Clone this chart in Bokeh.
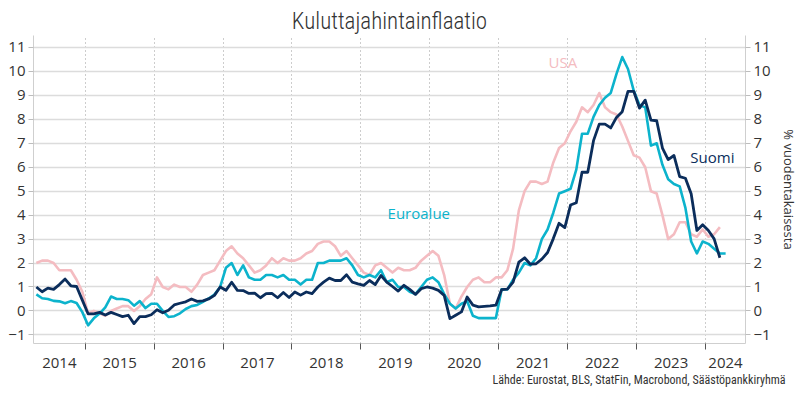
import pandas as pd
from bokeh.plotting import figure
from bokeh.models import (Range1d, LinearAxis, FixedTicker, Label, ColumnDataSource,
                          CustomJSTickFormatter, Title)
from bokeh.embed import file_html
from bokeh.resources import INLINE

# ---------------- data (monthly, year-on-year %) ----------------
start_month = "2014-04"

euroalue = [
    0.69, 0.53, 0.50, 0.42, 0.40, 0.32, 0.41, 0.33, -0.05,                    # 2014 Apr-Dec
    -0.60, -0.31, -0.11, 0.15, 0.60, 0.50, 0.50, 0.45, 0.22, 0.41, 0.12, 0.30,  # 2015
    0.30, 0.00, -0.25, -0.22, -0.10, 0.08, 0.20, 0.25, 0.38, 0.52, 0.68, 1.00,  # 2016
    1.80, 2.00, 1.50, 1.90, 1.40, 1.30, 1.30, 1.50, 1.50, 1.40, 1.50, 1.30,     # 2017
    1.30, 1.10, 1.30, 1.30, 2.00, 2.00, 2.10, 2.10, 2.10, 2.20, 1.90, 1.50,     # 2018
    1.40, 1.50, 1.40, 1.70, 1.20, 1.30, 1.00, 1.00, 0.80, 0.70, 1.00, 1.30,     # 2019
    1.40, 1.20, 0.70, 0.30, 0.10, 0.30, 0.40, -0.20, -0.30, -0.30, -0.30, -0.30,  # 2020
    0.90, 0.90, 1.30, 1.60, 2.00, 1.90, 2.20, 3.00, 3.40, 4.10, 4.90, 5.00,     # 2021
    5.10, 5.90, 7.40, 7.40, 8.10, 8.60, 8.90, 9.10, 9.90, 10.60, 10.10, 9.20,   # 2022
    8.60, 8.50, 6.90, 7.00, 6.10, 5.50, 5.30, 5.20, 4.30, 2.90, 2.40, 2.90,     # 2023
    2.80, 2.60, 2.40, 2.40,                                                      # 2024 Jan-Apr
]

suomi = [
    1.00, 0.80, 0.95, 0.90, 1.10, 1.33, 1.05, 1.02, 0.45,                       # 2014 Apr-Dec
    -0.12, -0.12, -0.06, -0.17, -0.06, -0.15, -0.24, -0.18, -0.53, -0.24, -0.24, -0.16,  # 2015
    0.05, -0.08, 0.03, 0.25, 0.32, 0.38, 0.50, 0.40, 0.42, 0.50, 0.65, 1.00,    # 2016
    0.86, 1.20, 0.86, 0.85, 0.73, 0.74, 0.55, 0.72, 0.73, 0.55, 0.77, 0.56,     # 2017
    0.79, 0.66, 0.79, 0.72, 1.00, 1.20, 1.37, 1.27, 1.27, 1.51, 1.20, 1.13,     # 2018
    1.07, 1.27, 1.10, 1.48, 1.20, 1.02, 0.83, 1.07, 0.90, 0.69, 0.93, 1.00,     # 2019
    0.95, 0.86, 0.65, -0.32, -0.18, -0.04, 0.58, 0.24, 0.17, 0.19, 0.21, 0.24,  # 2020
    0.89, 0.91, 1.20, 2.04, 2.22, 1.95, 1.97, 2.16, 2.44, 3.02, 3.66, 3.48,     # 2021
    4.42, 4.52, 5.79, 5.79, 7.11, 7.80, 7.80, 7.64, 8.08, 8.32, 9.17, 9.17,     # 2022
    8.47, 8.80, 7.97, 7.94, 6.80, 6.32, 6.49, 5.61, 5.54, 4.89, 3.36, 3.60,     # 2023
    3.36, 3.01, 2.22,                                                            # 2024 Jan-Mar
]

usa = [
    2.0, 2.1, 2.1, 2.0, 1.7, 1.7, 1.7, 1.3, 0.8,                                 # 2014 Apr-Dec
    -0.1, 0.0, -0.1, -0.2, 0.0, 0.1, 0.2, 0.2, 0.0, 0.2, 0.5, 0.7,               # 2015
    1.4, 1.0, 0.9, 1.1, 1.0, 1.0, 0.8, 1.1, 1.5, 1.6, 1.7, 2.1,                  # 2016
    2.5, 2.7, 2.4, 2.2, 1.9, 1.6, 1.7, 1.9, 2.2, 2.0, 2.2, 2.1,                  # 2017
    2.1, 2.2, 2.4, 2.5, 2.8, 2.9, 2.9, 2.7, 2.3, 2.5, 2.2, 1.9,                  # 2018
    1.6, 1.5, 1.9, 2.0, 1.8, 1.6, 1.8, 1.7, 1.7, 1.8, 2.1, 2.3,                  # 2019
    2.5, 2.3, 1.5, 0.3, 0.1, 0.6, 1.0, 1.3, 1.4, 1.2, 1.2, 1.4,                  # 2020
    1.4, 1.7, 2.6, 4.2, 5.0, 5.4, 5.4, 5.3, 5.4, 6.2, 6.8, 7.0,                  # 2021
    7.5, 7.9, 8.5, 8.3, 8.6, 9.1, 8.5, 8.3, 8.2, 7.7, 7.1, 6.5,                  # 2022
    6.4, 6.0, 5.0, 4.9, 4.0, 3.0, 3.2, 3.7, 3.7, 3.2, 3.1, 3.4,                  # 2023
    3.1, 3.2, 3.5,                                                               # 2024 Jan-Mar
]

years = [2014, 2015, 2016, 2017, 2018, 2019, 2020, 2021, 2022, 2023, 2024]
y_ticks = [-1, 0, 1, 2, 3, 4, 5, 6, 7, 8, 9, 10, 11]

title_text = "Kuluttajahintainflaatio"
source_text = "Lähde: Eurostat, BLS, StatFin, Macrobond, Säästöpankkiryhmä"
y_axis_title = "% vuodentakaisesta"

# ---------------- helpers ----------------
def month_axis(n):
    d = pd.date_range(start_month, periods=n, freq="MS")
    return [dt.year + (dt.month - 0.5) / 12 for dt in d]

X0, X1 = 2014.25, 2024.58
Y0, Y1 = -1.36, 11.5

C_EURO = "#0cb3cc"
C_FI = "#0b2d5b"
C_US = "#f4bcc1"
TXT = "#333333"
FONT = "Open Sans"
NARROW_LIGHT = "'Roboto Condensed Light', 'Roboto Condensed', Roboto"
NARROW = "'Roboto Condensed', Roboto"

p = figure(width=800, height=400, output_backend="svg", toolbar_location=None,
           x_range=Range1d(X0, X1), y_range=Range1d(Y0, Y1),
           min_border_left=33, min_border_right=52, min_border_top=35, min_border_bottom=57,
           y_axis_location=None, x_axis_location=None)
p.outline_line_color = None
p.background_fill_color = "white"
p.border_fill_color = "white"

# title (top) and source (bottom)
p.title = Title(text=title_text, align="center", text_font=NARROW_LIGHT, text_font_size="23px",
                text_font_style="normal", text_color=TXT, standoff=2, offset=0)

# grid
p.xgrid.ticker = FixedTicker(ticks=years[1:])
p.xgrid.grid_line_color = "#9a9a9a"
p.xgrid.grid_line_dash = "1 3"
p.xgrid.grid_line_width = 1
p.ygrid.ticker = FixedTicker(ticks=y_ticks)
p.ygrid.grid_line_color = "#dcdcdc"
p.ygrid.grid_line_width = 1.3

# bottom axis: labels at visible-year midpoints, ticks at year boundaries
mids = [(max(y, X0) + min(y + 1, X1)) / 2 for y in years]
xax = LinearAxis(ticker=FixedTicker(ticks=mids, minor_ticks=years[1:]))
xax.formatter = CustomJSTickFormatter(code="return String(Math.floor(tick));")
xax.axis_line_color = "#cfcfcf"
xax.major_tick_line_color = None
xax.major_tick_out = 0
xax.major_tick_in = 0
xax.minor_tick_line_color = "#555555"
xax.minor_tick_out = 6
xax.minor_tick_in = 0
xax.major_label_text_font = FONT
xax.major_label_text_font_size = "15px"
xax.major_label_text_color = TXT
xax.major_label_standoff = 8
p.add_layout(xax, "below")

p.add_layout(Title(text=source_text, align="right", text_font=NARROW, text_font_size="12px",
                   text_font_style="normal", text_color=TXT, standoff=0, offset=-40), "below")

def yaxis(label=None):
    ax = LinearAxis(ticker=FixedTicker(ticks=y_ticks))
    ax.axis_line_color = "#cfcfcf"
    ax.major_tick_line_color = "#bdbdbd"
    ax.major_tick_out = 5
    ax.major_tick_in = 0
    ax.minor_tick_line_color = None
    ax.major_label_text_font = FONT
    ax.major_label_text_font_size = "15px"
    ax.major_label_text_color = TXT
    ax.major_label_standoff = 3
    if label:
        ax.axis_label = label
        ax.axis_label_text_font = FONT
        ax.axis_label_text_font_size = "13px"
        ax.axis_label_text_font_style = "normal"
        ax.axis_label_text_color = TXT
        ax.axis_label_standoff = 6
    return ax

p.add_layout(yaxis(), "left")
p.add_layout(yaxis(y_axis_title), "right")

# lines
src_us = ColumnDataSource(dict(x=month_axis(len(usa)), y=usa))
src_eu = ColumnDataSource(dict(x=month_axis(len(euroalue)), y=euroalue))
src_fi = ColumnDataSource(dict(x=month_axis(len(suomi)), y=suomi))
p.line("x", "y", source=src_us, color=C_US, line_width=2.6, line_join="round")
p.line("x", "y", source=src_eu, color=C_EURO, line_width=2.6, line_join="round")
p.line("x", "y", source=src_fi, color=C_FI, line_width=2.8, line_join="round")

# series labels
for txt, x, y, c in [("USA", 2021.93, 10.4, C_US), ("Euroalue", 2019.84, 4.09, C_EURO),
                     ("Suomi", 2024.10, 6.43, C_FI)]:
    p.add_layout(Label(x=x, y=y, text=txt, text_color=c, text_font=FONT,
                       text_font_size="15px", text_align="center", text_baseline="middle"))

open("out.html", "w").write(file_html(p, INLINE))
